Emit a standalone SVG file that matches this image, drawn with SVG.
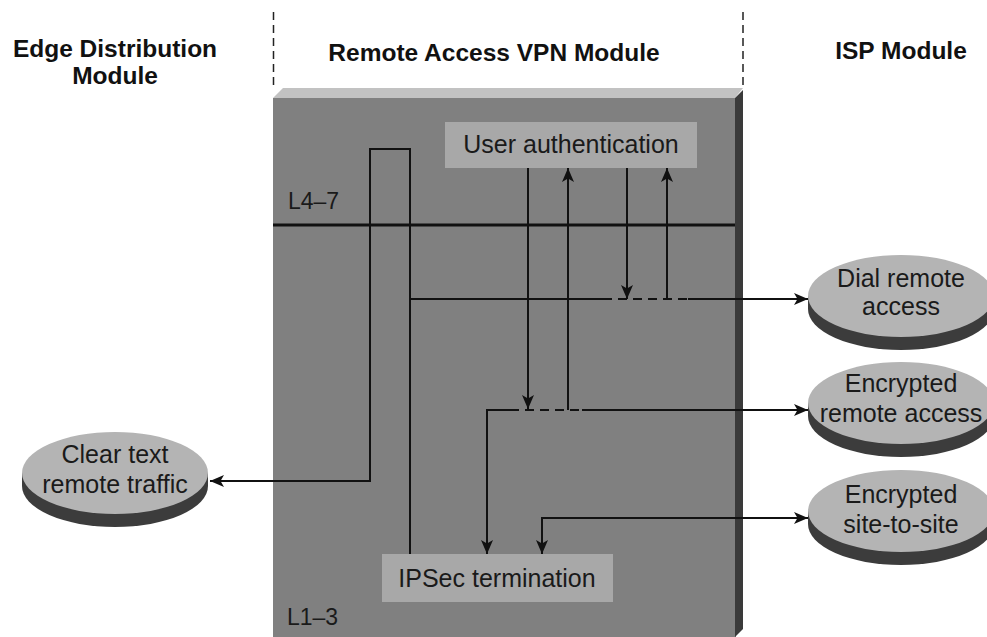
<svg xmlns="http://www.w3.org/2000/svg" xmlns:xlink="http://www.w3.org/1999/xlink" width="987" height="637" viewBox="0 0 987 637">
<style>
.hdr{font-family:"Liberation Sans",Arial,sans-serif;font-weight:bold;font-size:24.5px;fill:#111;text-anchor:middle}
.lbl{font-family:"Liberation Sans",Arial,sans-serif;font-size:25px;fill:#1a1a1a;text-anchor:middle}
.lay{font-family:"Liberation Sans",Arial,sans-serif;font-size:23px;fill:#1a1a1a}
.ln{fill:none;stroke:#111;stroke-width:2}
.dash{fill:none;stroke:#111;stroke-width:2;stroke-dasharray:9 6}
.sep{fill:none;stroke:#222;stroke-width:1.5;stroke-dasharray:8 5}
.box{fill:#a8a8a8}
</style>
<defs>
<marker id="ah" viewBox="0 0 14 12" refX="14" refY="6" markerWidth="14" markerHeight="12" markerUnits="userSpaceOnUse" orient="auto-start-reverse">
<path d="M0,0 L14,6 L0,12 L3.5,6 Z" fill="#111"/>
</marker>
<g id="cyl">
<path d="M-93,0 L-93,13 A93 41 0 0 0 93,13 L93,0 Z" fill="#3c3c3c"/>
<ellipse cx="0" cy="0" rx="93" ry="41" fill="#b4b4b4"/>
</g>
</defs>
<rect width="987" height="637" fill="#fff"/>

<g id="headers">
<text class="hdr" x="115" y="57">Edge Distribution</text>
<text class="hdr" x="115" y="84">Module</text>
<text class="hdr" x="494" y="61">Remote Access VPN Module</text>
<text class="hdr" x="901" y="59">ISP Module</text>
<line class="sep" x1="273.5" y1="12" x2="273.5" y2="87"/>
<line class="sep" x1="743" y1="12" x2="743" y2="86"/>
</g>

<g id="vpn-module">
<rect x="273" y="98" width="463" height="539" fill="#808080"/>
<polygon points="273,98 283,88 743,88 735,98" fill="#c2c2c2"/>
<polygon points="735,98 743,90 743,629 735,637" fill="#3a3a3a"/>
<line x1="273" y1="225" x2="735" y2="225" stroke="#111" stroke-width="3"/>
<text class="lay" x="288" y="209">L4–7</text>
<text class="lay" x="287" y="625">L1–3</text>
</g>

<g id="user-auth">
<rect class="box" x="445" y="122" width="252" height="46"/>
<text class="lbl" x="571" y="153">User authentication</text>
</g>

<g id="ipsec">
<rect class="box" x="382" y="554" width="231" height="48"/>
<text class="lbl" x="497" y="587">IPSec termination</text>
</g>

<g id="clear-text">
<use xlink:href="#cyl" x="115" y="473"/>
<text class="lbl" x="115" y="463">Clear text</text>
<text class="lbl" x="115" y="493">remote traffic</text>
</g>

<g id="dial">
<use xlink:href="#cyl" x="901" y="296"/>
<text class="lbl" x="901" y="287">Dial remote</text>
<text class="lbl" x="901" y="315">access</text>
</g>

<g id="enc-remote">
<use xlink:href="#cyl" x="901" y="403"/>
<text class="lbl" x="901" y="392">Encrypted</text>
<text class="lbl" x="901" y="422">remote access</text>
</g>

<g id="enc-site">
<use xlink:href="#cyl" x="901" y="511"/>
<text class="lbl" x="901" y="503">Encrypted</text>
<text class="lbl" x="901" y="533">site-to-site</text>
</g>

<g id="connectors">
<path class="ln" d="M410,554 L410,149 L370,149 L370,481 L210,481" marker-end="url(#ah)"/>
<line class="ln" x1="410" y1="299" x2="603" y2="299"/>
<line class="dash" x1="603" y1="299" x2="688" y2="299"/>
<line class="ln" x1="688" y1="299" x2="808" y2="299" marker-end="url(#ah)"/>
<line class="ln" x1="627" y1="168" x2="627" y2="299" marker-end="url(#ah)"/>
<line class="ln" x1="667" y1="299" x2="667" y2="168" marker-end="url(#ah)"/>
<line class="ln" x1="528" y1="168" x2="528" y2="409" marker-end="url(#ah)"/>
<line class="ln" x1="568" y1="410" x2="568" y2="168" marker-end="url(#ah)"/>
<path class="ln" d="M487,554 L487,410 L510,410" marker-start="url(#ah)"/>
<line class="dash" x1="510" y1="410" x2="582" y2="410"/>
<line class="ln" x1="582" y1="410" x2="808" y2="410" marker-end="url(#ah)"/>
<path class="ln" d="M542,554 L542,518 L808,518" marker-start="url(#ah)" marker-end="url(#ah)"/>
</g>
</svg>
